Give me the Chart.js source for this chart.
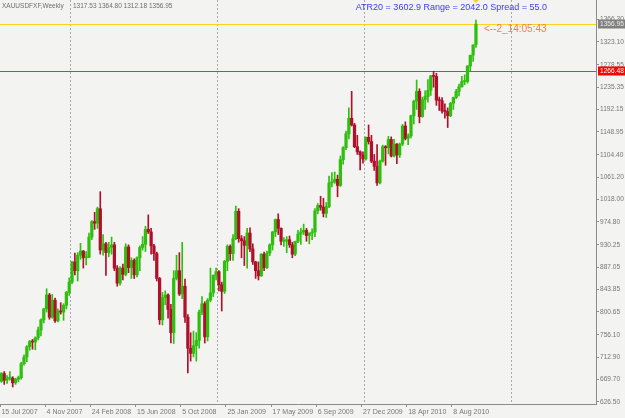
<!DOCTYPE html>
<html>
<head>
<meta charset="utf-8">
<script src="https://cdn.jsdelivr.net/npm/chart.js@4.4.1/dist/chart.umd.min.js"></script>
<style>
  html, body { margin: 0; padding: 0; background: #f3f3f1; }
  #chart { display: block; }
</style>
</head>
<body>
<canvas id="chart" width="625" height="418"></canvas>
<script>
const symbolLine = 'XAUUSDFXF,Weekly';
const lastQuote = '1317.53 1364.80 1312.18 1356.95';
const infoLine = 'ATR20 = 3602.9 Range = 2042.0 Spread = 55.0';
const timerLine = '<--2_14:05:43';

// weekly bars, first one is the week of 15 Jul 2007
const opens = [
  666, 681, 668, 672, 672, 663, 670, 673, 700, 713, 733, 743, 742, 750, 765, 785, 806, 833, 790, 823,
  783, 802, 800, 813, 838, 858, 897, 880, 910, 918, 905, 906, 945, 975, 972, 1000, 920, 932, 915, 925,
  930, 885, 856, 885, 873, 926, 886, 900, 872, 905, 925, 931, 960, 955, 928, 913, 865, 785, 828, 833,
  805, 760, 865, 880, 835, 850, 790, 730, 720, 735, 745, 800, 816, 752, 823, 837, 871, 878, 853, 840,
  898, 927, 913, 942, 995, 942, 938, 929, 953, 922, 897, 880, 870, 912, 886, 914, 930, 955, 979, 962,
  937, 937, 940, 930, 912, 937, 951, 955, 958, 948, 953, 955, 996, 1006, 1003, 991, 1004, 1050, 1052, 1057,
  1045, 1095, 1118, 1145, 1175, 1162, 1120, 1110, 1104, 1096, 1138, 1130, 1092, 1082, 1050, 1092, 1120, 1118, 1134, 1102,
  1125, 1104, 1125, 1160, 1136, 1141, 1180, 1208, 1227, 1178, 1211, 1217, 1229, 1257, 1256, 1210, 1209, 1189, 1188, 1180,
  1204, 1215, 1227, 1236, 1246, 1246, 1276, 1297, 1317.53
];
const highs = [
  683, 685, 677, 685, 675, 672, 676, 703, 717, 735, 745, 747, 752, 771, 787, 807, 845, 836, 834, 827,
  806, 818, 816, 840, 866, 898, 914, 915, 933, 919, 917, 953, 977, 993, 1003, 1033, 950, 935, 935, 945,
  935, 890, 888, 893, 932, 930, 905, 903, 907, 928, 946, 966, 988, 962, 931, 916, 867, 838, 841, 835,
  815, 880, 910, 915, 935, 864, 795, 760, 763, 760, 804, 830, 820, 826, 885, 872, 885, 880, 858, 900,
  930, 930, 950, 1005, 1000, 948, 946, 962, 963, 932, 898, 897, 913, 916, 918, 932, 956, 980, 990, 963,
  944, 946, 947, 935, 937, 958, 962, 970, 962, 953, 961, 1000, 1010, 1024, 1020, 1012, 1063, 1070, 1071, 1065,
  1102, 1120, 1150, 1195, 1227, 1165, 1142, 1112, 1110, 1139, 1162, 1142, 1105, 1124, 1094, 1123, 1122, 1140, 1139, 1134,
  1126, 1127, 1163, 1168, 1145, 1181, 1210, 1249, 1232, 1216, 1228, 1250, 1258, 1266, 1262, 1216, 1215, 1203, 1195, 1206,
  1216, 1231, 1241, 1256, 1259, 1277, 1297, 1317, 1364.80
];
const lows = [
  664, 660, 662, 668, 655, 660, 665, 670, 697, 704, 726, 728, 727, 746, 754, 779, 800, 786, 788, 780,
  781, 796, 784, 806, 832, 855, 872, 860, 902, 885, 891, 905, 940, 960, 962, 912, 910, 871, 907, 912,
  880, 850, 852, 862, 870, 876, 865, 865, 868, 880, 920, 917, 952, 912, 900, 860, 776, 775, 814, 788,
  740, 739, 862, 832, 826, 780, 682, 705, 713, 705, 730, 795, 740, 744, 820, 830, 862, 841, 802, 836,
  880, 900, 900, 940, 935, 905, 890, 885, 917, 892, 865, 862, 869, 880, 884, 909, 920, 946, 950, 930,
  927, 915, 925, 905, 909, 934, 931, 950, 937, 932, 940, 946, 990, 997, 984, 983, 1002, 1042, 1049, 1023,
  1043, 1086, 1114, 1135, 1160, 1118, 1105, 1075, 1088, 1094, 1125, 1089, 1074, 1045, 1048, 1090, 1084, 1106, 1100, 1100,
  1087, 1099, 1122, 1133, 1124, 1137, 1164, 1192, 1166, 1177, 1192, 1206, 1219, 1235, 1200, 1190, 1185, 1175, 1157, 1178,
  1192, 1213, 1218, 1235, 1240, 1243, 1267, 1285, 1312.18
];
const closes = [
  681, 668, 672, 672, 663, 670, 673, 700, 713, 733, 743, 742, 750, 765, 785, 806, 833, 790, 823, 783,
  802, 800, 813, 838, 858, 897, 880, 910, 918, 905, 906, 945, 975, 972, 1000, 920, 932, 915, 925, 930,
  885, 856, 885, 873, 926, 886, 900, 872, 905, 925, 931, 960, 955, 928, 913, 865, 785, 828, 833, 805,
  760, 865, 880, 835, 850, 790, 730, 720, 735, 745, 800, 816, 752, 823, 837, 871, 878, 853, 840, 898,
  927, 913, 942, 995, 942, 938, 929, 953, 922, 897, 880, 870, 912, 886, 914, 930, 955, 979, 962, 937,
  937, 940, 930, 912, 937, 951, 955, 958, 948, 953, 955, 996, 1006, 1003, 991, 1004, 1050, 1052, 1057, 1045,
  1095, 1118, 1145, 1175, 1162, 1120, 1110, 1104, 1096, 1138, 1130, 1092, 1082, 1050, 1092, 1120, 1118, 1134, 1102, 1125,
  1104, 1125, 1160, 1136, 1141, 1180, 1208, 1227, 1178, 1211, 1217, 1229, 1257, 1256, 1210, 1209, 1189, 1188, 1180, 1204,
  1215, 1227, 1236, 1246, 1246, 1276, 1297, 1317, 1356.95
];

const yTicks = [626.50, 669.70, 712.90, 756.10, 800.65, 843.85, 887.05, 930.25, 974.80, 1018.00,
  1061.20, 1104.40, 1148.95, 1192.15, 1235.35, 1278.55, 1323.10, 1366.30];
const xTickLabels = ['15 Jul 2007', '4 Nov 2007', '24 Feb 2008', '15 Jun 2008', '5 Oct 2008', '25 Jan 2009',
  '17 May 2009', '6 Sep 2009', '27 Dec 2009', '18 Apr 2010', '8 Aug 2010'];
const bidPrice = 1356.95;
const levelPrice = 1266.48;

const weekSlots = 211; // bars on screen plus the empty shift area on the right
const months = ['Jan', 'Feb', 'Mar', 'Apr', 'May', 'Jun', 'Jul', 'Aug', 'Sep', 'Oct', 'Nov', 'Dec'];
const weekDates = Array.from({ length: weekSlots }, (_, i) => new Date(2007, 6, 15 + 7 * i));
const weekLabels = weekDates.map((d) => `${d.getDate()} ${months[d.getMonth()]} ${d.getFullYear()}`);

const bullColor = '#2fbf0e';
const bearColor = '#b0102a';
const axisColor = '#8c8c8c';
const labelColor = '#777777';
const candleColors = closes.map((c, i) => (c >= opens[i] ? bullColor : bearColor));

const isYearStart = (i) => weekDates[i] && weekDates[i].getMonth() === 0 && weekDates[i].getDate() <= 7;
const isDateLabel = (i) => weekLabels[i] !== undefined && xTickLabels.includes(weekLabels[i]);

const overlay = {
  id: 'overlay',
  beforeDraw(chart) {
    const { ctx, width, height } = chart;
    ctx.save();
    ctx.fillStyle = '#f3f3f1';
    ctx.fillRect(0, 0, width, height);
    ctx.restore();
  },
  beforeDatasetsDraw(chart) {
    const { ctx, chartArea: area, scales: { y } } = chart;
    ctx.save();
    [[bidPrice, '#ffd21f'], [levelPrice, '#ff2a2a']].forEach(([value, color]) => {
      const py = Math.round(y.getPixelForValue(value));
      ctx.fillStyle = color;
      ctx.fillRect(area.left, py, area.right - area.left, 1);
    });
    ctx.restore();
  },
  afterDraw(chart) {
    const { ctx, chartArea: area, scales: { x, y } } = chart;
    ctx.save();
    ctx.textBaseline = 'middle';

    ctx.font = '6.5px "Liberation Sans"';
    ctx.fillStyle = '#6e6e6e';
    ctx.textAlign = 'left';
    ctx.fillText(symbolLine, 2, 6);
    ctx.fillText(lastQuote, 73, 6);

    ctx.font = '9px "Liberation Sans"';
    ctx.fillStyle = '#3c3cf0';
    ctx.textAlign = 'right';
    ctx.fillText(infoLine, 547, 8);

    ctx.font = '10px "Liberation Sans"';
    ctx.fillStyle = '#e8864a';
    ctx.textAlign = 'left';
    ctx.fillText(timerLine, 484, 29.5);

    // price tags on the right axis
    ctx.font = '6.6px "Liberation Sans"';
    [[bidPrice, '#808080', '#eeeeee'], [levelPrice, '#ff0000', '#ffffff']].forEach(([value, bg, fg]) => {
      const py = Math.round(y.getPixelForValue(value));
      ctx.fillStyle = bg;
      ctx.fillRect(area.right + 2, py - 4.5, chart.width - area.right - 2, 9);
      ctx.fillStyle = fg;
      ctx.fillText(value.toFixed(2), area.right + 4, py + 0.5);
    });

    // shift marker above the last bar
    const lx = x.getPixelForValue(closes.length - 1);
    ctx.fillStyle = '#ffd21f';
    ctx.beginPath();
    ctx.moveTo(lx - 3, area.top);
    ctx.lineTo(lx + 3, area.top);
    ctx.lineTo(lx, area.top + 3);
    ctx.closePath();
    ctx.fill();
    ctx.restore();
  },
};

new Chart(document.getElementById('chart'), {
  type: 'bar',
  data: {
    labels: weekLabels,
    datasets: [
      {
        label: 'Wicks',
        data: lows.map((low, i) => [low, highs[i]]),
        backgroundColor: candleColors,
        barThickness: 1,
        grouped: false,
        borderWidth: 0,
      },
      {
        label: 'Bodies',
        data: opens.map((open, i) => [open, closes[i]]),
        backgroundColor: candleColors,
        barThickness: 2.6,
        minBarLength: 1,
        grouped: false,
        borderWidth: 0,
      },
    ],
  },
  options: {
    responsive: false,
    animation: false,
    events: [],
    layout: { padding: 0 },
    plugins: {
      legend: { display: false },
      tooltip: { enabled: false },
    },
    scales: {
      x: {
        offset: true,
        grid: {
          offset: true,
          tickLength: 3,
          color: (ctx) => (isYearStart(ctx.index) ? '#a8a8a8' : 'rgba(0,0,0,0)'),
          tickColor: (ctx) => (isDateLabel(ctx.index) ? axisColor : 'rgba(0,0,0,0)'),
        },
        border: { color: axisColor, dash: [2, 2] },
        ticks: {
          autoSkip: false,
          maxRotation: 0,
          minRotation: 0,
          align: 'start',
          padding: 1,
          color: labelColor,
          font: { family: 'Liberation Sans', size: 7 },
          callback: (value, index) => (isDateLabel(index) ? weekLabels[index] : ''),
        },
        afterFit(scale) {
          scale.height = 14;
          scale.paddingLeft = 0;
          scale.paddingRight = 0;
        },
      },
      y: {
        position: 'right',
        min: 622.05,
        max: 1403.8,
        grid: { drawOnChartArea: false, tickLength: 3, color: axisColor },
        border: { color: axisColor },
        ticks: {
          autoSkip: false,
          padding: 1,
          color: labelColor,
          font: { family: 'Liberation Sans', size: 6.6 },
          callback: (value) => Number(value).toFixed(2),
        },
        afterBuildTicks(scale) {
          scale.ticks = yTicks.map((value) => ({ value }));
        },
        afterFit(scale) {
          scale.width = 29;
          scale.paddingTop = 0;
          scale.paddingBottom = 0;
        },
      },
    },
  },
  plugins: [overlay],
});
</script>
</body>
</html>
